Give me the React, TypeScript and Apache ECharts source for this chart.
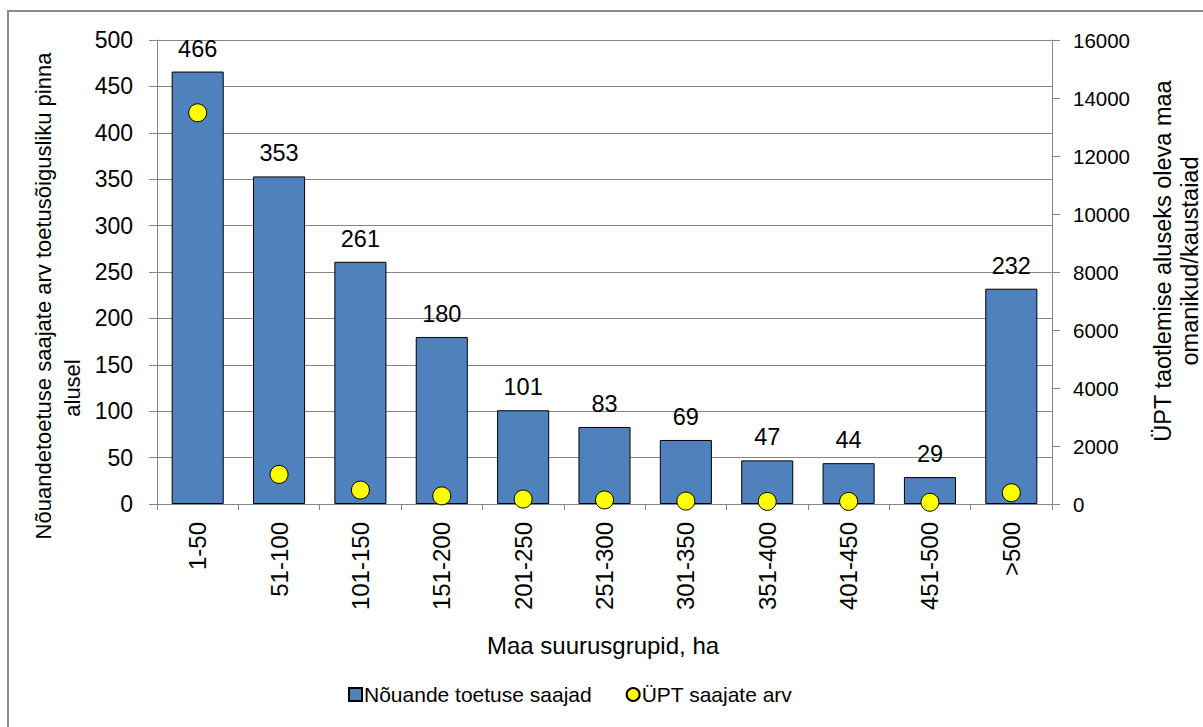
import React, { useEffect, useRef } from "react";
import * as echarts from "echarts";

const categories = ["1-50", "51-100", "101-150", "151-200", "201-250", "251-300", "301-350", "351-400", "401-450", "451-500", ">500"];
const barValues = [466, 353, 261, 180, 101, 83, 69, 47, 44, 29, 232];
const dotValues = [13490, 1020, 480, 280, 170, 140, 100, 90, 90, 60, 390];
const leftTicks = { min: 0, max: 500, interval: 50 };
const rightTicks = { min: 0, max: 16000, interval: 2000 };

const FONT = "Liberation Sans, Arial, sans-serif";

export default function App() {
  const ref = useRef<HTMLDivElement>(null);
  useEffect(() => {
    if (!ref.current) return;
    const chart = echarts.init(ref.current, null, { renderer: "svg" });
    const rotText = (text: string, x: number, y: number, size: number) => ({
      type: "text",
      x,
      y,
      rotation: Math.PI / 2,
      style: {
        text,
        fontSize: size,
        fontFamily: FONT,
        fill: "#000",
        textAlign: "center",
        textVerticalAlign: "middle",
      },
    });
    chart.setOption({
      animation: false,
      backgroundColor: "#fff",
      textStyle: { fontFamily: FONT, color: "#000" },
      grid: { left: 157, right: 151, top: 40, bottom: 223, containLabel: false },
      legend: {
        left: 343,
        top: 679,
        itemWidth: 13,
        itemHeight: 13,
        itemGap: 34,
        textStyle: { fontSize: 21, color: "#000", fontFamily: FONT, padding: [0, 0, 0, -3] },
        data: [
          { name: "Nõuande toetuse saajad", icon: "rect" },
          { name: "ÜPT saajate arv", icon: "circle" },
        ],
      },
      xAxis: {
        type: "category",
        data: categories,
        boundaryGap: true,
        axisLine: { lineStyle: { color: "#868686", width: 1 } },
        axisTick: { show: true, alignWithLabel: false, length: 6, lineStyle: { color: "#868686" } },
        axisLabel: { rotate: 90, fontSize: 24, color: "#000", margin: 18, fontFamily: FONT },
      },
      yAxis: [
        {
          type: "value",
          ...leftTicks,
          position: "left",
          axisLine: { show: true, lineStyle: { color: "#868686" } },
          axisTick: { show: true, length: 8, lineStyle: { color: "#868686" } },
          axisLabel: { fontSize: 23, color: "#000", margin: 24, fontFamily: FONT },
          splitLine: { show: true, lineStyle: { color: "#868686", width: 1 } },
        },
        {
          type: "value",
          ...rightTicks,
          position: "right",
          axisLine: { show: true, lineStyle: { color: "#868686" } },
          axisTick: { show: true, length: 8, lineStyle: { color: "#868686" } },
          axisLabel: { fontSize: 20.5, color: "#000", margin: 21, fontFamily: FONT, formatter: (v: number) => String(v) },
          splitLine: { show: false },
        },
      ],
      series: [
        {
          name: "Nõuande toetuse saajad",
          type: "bar",
          data: barValues,
          barCategoryGap: "36%",
          itemStyle: { color: "#4F81BD", borderColor: "#000", borderWidth: 1 },
          label: { show: true, position: "top", distance: 11, fontSize: 23.5, color: "#000", fontFamily: FONT },
        },
        {
          name: "ÜPT saajate arv",
          type: "scatter",
          yAxisIndex: 1,
          data: dotValues,
          symbol: "circle",
          symbolSize: 18,
          itemStyle: { color: "#FFFF00", borderColor: "#000", borderWidth: 1, opacity: 1 },
          z: 5,
        },
      ],
      graphic: [
        {
          type: "rect",
          shape: { x: 8, y: 11, width: 1400, height: 1000 },
          style: { fill: "none", stroke: "#8c8c8c", lineWidth: 2 },
          silent: true,
        },
        rotText("Nõuandetoetuse saajate arv toetusõigusliku pinna", 43, 296, 22),
        rotText("alusel", 72, 388, 22),
        rotText("ÜPT taotlemise aluseks oleva maa", 1163, 261, 23.5),
        rotText("omanikud/kaustaiad", 1190, 261, 23.5),
        {
          type: "text",
          x: 603,
          y: 645,
          style: {
            text: "Maa suurusgrupid, ha",
            fontSize: 24,
            fontFamily: FONT,
            fill: "#000",
            textAlign: "center",
            textVerticalAlign: "middle",
          },
        },
      ],
    });
    return () => chart.dispose();
  }, []);
  return <div ref={ref} style={{ position: "absolute", left: 0, top: 0, width: 1203, height: 727 }} />;
}
